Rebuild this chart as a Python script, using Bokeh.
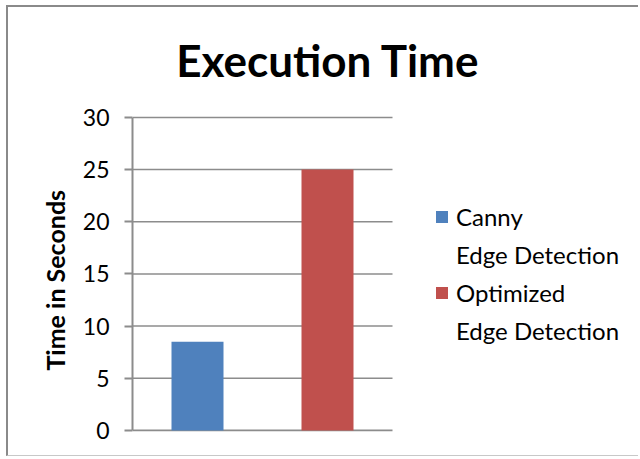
from bokeh.plotting import figure
from bokeh.models import (Range1d, Legend, LegendItem, FixedTicker, ColumnDataSource, Label)
from bokeh.embed import file_html
from bokeh.resources import INLINE

categories = ["Canny Edge Detection", "Optimized Edge Detection"]
times = [8.5, 25]
colors = ["#4F81BD", "#C0504D"]
legend_first = ["Canny", "Optimized"]
legend_second = ["Edge Detection", "Edge Detection"]
y_ticks = [0, 5, 10, 15, 20, 25, 30]
title_text = "Execution Time"
y_label = "Time in Seconds"

FONT = "Lato"
GRID = "#8c8c8c"

# layout constants (pixels)
FRAME_W = 508      # frame spans plot area + legend area
CAT_W = 260        # width of the category plot area
AXIS_H = 313       # height of the 0..30 axis
FRAME_H = 424      # frame spans from canvas top to just below the axis
n = len(categories)
x_end = n * FRAME_W / CAT_W
px_per_unit = AXIS_H / (y_ticks[-1] - y_ticks[0])
y_start = y_ticks[0] - 0.1
y_end = y_start + FRAME_H / px_per_unit

p = figure(width=632, height=451,
           x_range=Range1d(0, x_end),
           y_range=Range1d(y_start, y_end),
           output_backend="svg", toolbar_location=None,
           min_border_left=124, min_border_top=0,
           min_border_bottom=27, min_border_right=0)
p.margin = (5, 0, 0, 6)
p.styles = {"border-left": "2px solid #8a8a8a", "border-top": "2px solid #8a8a8a",
            "border-bottom": "1px solid #c8c8c8"}
p.outline_line_color = None
p.background_fill_color = "white"
p.border_fill_color = "white"

# gridlines over the category span only
grid_src = ColumnDataSource(dict(x0=[0] * len(y_ticks), x1=[n] * len(y_ticks),
                                 y=y_ticks, w=[2 if t == y_ticks[0] else 1.5 for t in y_ticks]))
p.segment(x0="x0", x1="x1", y0="y", y1="y", line_width="w", line_color=GRID,
          source=grid_src)

renderers = []
for i in range(n):
    s = ColumnDataSource(dict(x=[i + 0.5], t=[times[i]], name=[categories[i]]))
    r = p.vbar(x="x", top="t", width=0.4, source=s, fill_color=colors[i],
               line_color=None)
    renderers.append(r)

p.xaxis.visible = False
p.xgrid.visible = False
p.ygrid.visible = False

ya = p.yaxis[0]
ya.bounds = (y_ticks[0], y_ticks[-1])
ya.ticker = FixedTicker(ticks=y_ticks)
ya.axis_line_color = GRID
ya.axis_line_width = 2
ya.major_tick_line_color = GRID
ya.major_tick_line_width = 2
ya.major_tick_out = 8
ya.major_tick_in = 0
ya.minor_tick_line_color = None
ya.major_label_text_font = FONT
ya.major_label_text_font_size = "23px"
ya.major_label_text_color = "black"
ya.major_label_standoff = 15
# the label is centred on the (tall) frame; non-breaking spaces move it down to the axis centre
ya.axis_label = y_label + "\u00a0" * 20
ya.axis_label_text_font = FONT
ya.axis_label_text_font_style = "bold"
ya.axis_label_text_font_size = "25px"
ya.axis_label_text_color = "black"
ya.axis_label_standoff = 10

# title, centred over the chart area
title = Label(x=195.5 / (CAT_W / n), y=370 / px_per_unit, text=title_text,
              text_font=FONT, text_font_style="bold", text_font_size="44px",
              text_align="center", text_baseline="alphabetic", text_color="black")
p.add_layout(title)

items = []
for i in range(n):
    items.append(LegendItem(label=legend_first[i], renderers=[renderers[i]]))
    items.append(LegendItem(label=legend_second[i], renderers=[]))

legend = Legend(items=items,
                location=(302, 86), padding=0, margin=0, border_line_color=None,
                background_fill_alpha=0, glyph_width=15, glyph_height=15,
                label_standoff=7, spacing=9,
                label_text_font=FONT, label_text_font_size="24px",
                label_text_color="black")
p.add_layout(legend)

open("out.html", "w").write(file_html(p, INLINE))
